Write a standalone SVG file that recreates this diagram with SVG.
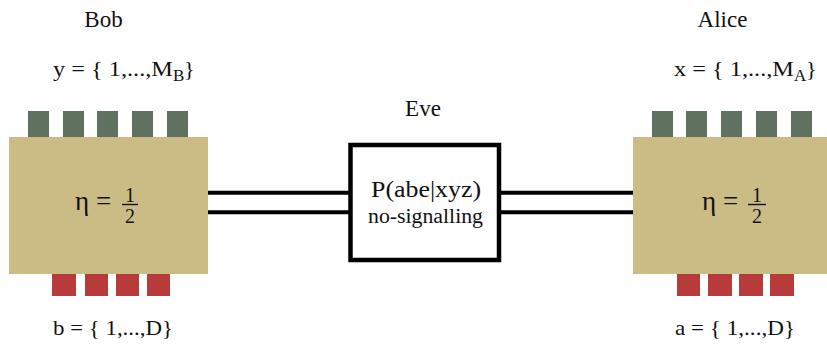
<svg xmlns="http://www.w3.org/2000/svg" width="827" height="345" viewBox="0 0 827 345">
  <style>
    text { fill: #111; font-family: "Liberation Serif", "Times New Roman", serif; }
    .name { font-size: 23px; text-anchor: middle; }
    .set { font-size: 22px; }
    .sub { font-size: 17px; }
    .party { fill: #CBBB85; }
    .in { fill: #5F715F; }
    .out { fill: #B83B3B; }
    .eta { font-size: 27px; }
    .num { font-size: 20px; text-anchor: middle; }
    .bar { stroke: #111; stroke-width: 1.4; }
    .wire { stroke: #000; stroke-width: 4; fill: none; }
  </style>

  <!-- channels between the parties and the source -->
  <g id="connectors">
    <line class="wire" x1="208" y1="192.7" x2="350" y2="192.7"/>
    <line class="wire" x1="208" y1="212.3" x2="350" y2="212.3"/>
    <line class="wire" x1="499" y1="192.7" x2="633" y2="192.7"/>
    <line class="wire" x1="499" y1="212.3" x2="633" y2="212.3"/>
  </g>

  <!-- Bob -->
  <g id="bob">
    <text class="name" x="103.5" y="27">Bob</text>
    <text class="set" x="53" y="76" textLength="120" lengthAdjust="spacingAndGlyphs">y = { 1,...,M</text>
    <text class="sub" x="173" y="81">B</text>
    <text class="set" x="184" y="76">}</text>
    <rect class="in" x="28" y="111" width="21" height="27"/>
    <rect class="in" x="63" y="111" width="21" height="27"/>
    <rect class="in" x="97" y="111" width="21" height="27"/>
    <rect class="in" x="132" y="111" width="21" height="27"/>
    <rect class="in" x="167" y="111" width="21" height="27"/>
    <rect class="out" x="52" y="273" width="24" height="23"/>
    <rect class="out" x="85" y="273" width="23" height="23"/>
    <rect class="out" x="116" y="273" width="23" height="23"/>
    <rect class="out" x="147" y="273" width="23" height="23"/>
    <rect class="party" x="9" y="137" width="199" height="137"/>
    <text class="eta" x="75" y="210">η</text>
    <text class="eta" x="96" y="210">=</text>
    <text class="num" x="130" y="202">1</text>
    <line class="bar" x1="122" y1="204.5" x2="138" y2="204.5"/>
    <text class="num" x="130" y="223">2</text>
    <text class="set" x="53" y="335" textLength="120" lengthAdjust="spacingAndGlyphs">b = { 1,...,D}</text>
  </g>

  <!-- Eve -->
  <g id="eve">
    <text class="name" x="423" y="116">Eve</text>
    <rect x="350.5" y="145" width="148.5" height="115" fill="#fff" stroke="#000" stroke-width="4.5"/>
    <text x="426" y="197" font-size="24" text-anchor="middle" textLength="110" lengthAdjust="spacingAndGlyphs">P(abe|xyz)</text>
    <text x="425.5" y="223" font-size="20" text-anchor="middle" textLength="115" lengthAdjust="spacingAndGlyphs">no-signalling</text>
  </g>

  <!-- Alice -->
  <g id="alice">
    <text class="name" x="722.5" y="27">Alice</text>
    <text class="set" x="674" y="76" textLength="120" lengthAdjust="spacingAndGlyphs">x = { 1,...,M</text>
    <text class="sub" x="794" y="81">A</text>
    <text class="set" x="806" y="76">}</text>
    <rect class="in" x="652" y="111" width="21" height="27"/>
    <rect class="in" x="686" y="111" width="21" height="27"/>
    <rect class="in" x="721" y="111" width="21" height="27"/>
    <rect class="in" x="756" y="111" width="21" height="27"/>
    <rect class="in" x="791" y="111" width="21" height="27"/>
    <rect class="out" x="677" y="273" width="23" height="23"/>
    <rect class="out" x="708" y="273" width="24" height="23"/>
    <rect class="out" x="739" y="273" width="24" height="23"/>
    <rect class="out" x="770" y="273" width="24" height="23"/>
    <rect class="party" x="633" y="137" width="194" height="137"/>
    <text class="eta" x="702" y="210">η</text>
    <text class="eta" x="723" y="210">=</text>
    <text class="num" x="757" y="202">1</text>
    <line class="bar" x1="748" y1="204.5" x2="766" y2="204.5"/>
    <text class="num" x="757" y="223">2</text>
    <text class="set" x="675" y="335" textLength="120" lengthAdjust="spacingAndGlyphs">a = { 1,...,D}</text>
  </g>
</svg>
